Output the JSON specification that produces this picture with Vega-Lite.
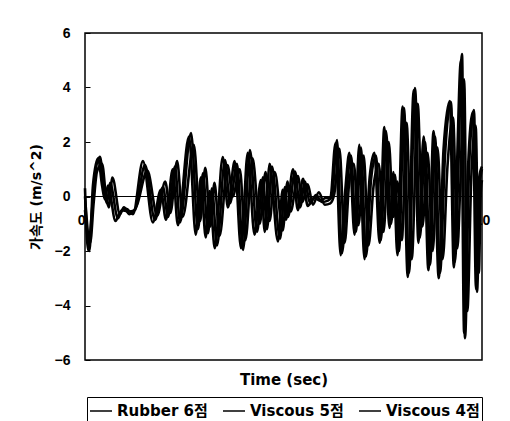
{
"$schema": "https://vega.github.io/schema/vega-lite/v6.json",
"width": 397, "height": 327,
"autosize": {"type": "none"},
"padding": {"left": 85, "top": 33, "right": 28, "bottom": 61},
"background": "white",
"config": {"view": {"stroke": "black", "strokeWidth": 1.5}, "font": "DejaVu Sans, Noto Sans CJK KR",
  "axis": {"labelColor": "black", "titleColor": "black", "tickColor": "black"}},
"data": {"values": [
{"s":"Rubber 6점","t":0,"v":0.3},{"s":"Rubber 6점","t":0.076,"v":-1.96},{"s":"Rubber 6점","t":0.176,"v":-0.5},{"s":"Rubber 6점","t":0.252,"v":0.8},{"s":"Rubber 6점","t":0.378,"v":1.46},{"s":"Rubber 6점","t":0.479,"v":0.2},{"s":"Rubber 6점","t":0.554,"v":-0.25},{"s":"Rubber 6점","t":0.63,"v":0.5},{"s":"Rubber 6점","t":0.831,"v":-0.8},{"s":"Rubber 6점","t":0.932,"v":-0.5},{"s":"Rubber 6점","t":1.083,"v":-0.55},{"s":"Rubber 6점","t":1.259,"v":-0.5},{"s":"Rubber 6점","t":1.511,"v":1.15},{"s":"Rubber 6점","t":1.763,"v":-0.86},{"s":"Rubber 6점","t":1.965,"v":0.35},{"s":"Rubber 6점","t":2.091,"v":-0.75},{"s":"Rubber 6점","t":2.267,"v":1.1},{"s":"Rubber 6점","t":2.393,"v":-0.95},{"s":"Rubber 6점","t":2.67,"v":2.33},{"s":"Rubber 6점","t":2.846,"v":-1.2},{"s":"Rubber 6점","t":2.972,"v":0.85},{"s":"Rubber 6점","t":3.098,"v":-1.35},{"s":"Rubber 6점","t":3.199,"v":0.3},{"s":"Rubber 6점","t":3.325,"v":-1.8},{"s":"Rubber 6점","t":3.526,"v":1.34},{"s":"Rubber 6점","t":3.652,"v":-0.25},{"s":"Rubber 6점","t":3.829,"v":1.2},{"s":"Rubber 6점","t":3.98,"v":-1.96},{"s":"Rubber 6점","t":4.156,"v":1.7},{"s":"Rubber 6점","t":4.332,"v":-1.3},{"s":"Rubber 6점","t":4.484,"v":0.7},{"s":"Rubber 6점","t":4.584,"v":-1.2},{"s":"Rubber 6점","t":4.71,"v":1.1},{"s":"Rubber 6점","t":4.912,"v":-1.55},{"s":"Rubber 6점","t":5.038,"v":0.35},{"s":"Rubber 6점","t":5.113,"v":-0.75},{"s":"Rubber 6점","t":5.29,"v":0.92},{"s":"Rubber 6점","t":5.416,"v":-0.4},{"s":"Rubber 6점","t":5.542,"v":0.55},{"s":"Rubber 6점","t":5.668,"v":-0.25},{"s":"Rubber 6점","t":5.819,"v":0.05},{"s":"Rubber 6점","t":5.97,"v":-0.2},{"s":"Rubber 6점","t":6.121,"v":-0.15},{"s":"Rubber 6점","t":6.222,"v":0},{"s":"Rubber 6점","t":6.348,"v":2.07},{"s":"Rubber 6점","t":6.474,"v":-2.08},{"s":"Rubber 6점","t":6.599,"v":0.4},{"s":"Rubber 6점","t":6.7,"v":1.5},{"s":"Rubber 6점","t":6.826,"v":-1.3},{"s":"Rubber 6점","t":6.952,"v":1.8},{"s":"Rubber 6점","t":7.078,"v":-2.2},{"s":"Rubber 6점","t":7.204,"v":0.6},{"s":"Rubber 6점","t":7.33,"v":1.5},{"s":"Rubber 6점","t":7.456,"v":-1.6},{"s":"Rubber 6점","t":7.582,"v":2.4},{"s":"Rubber 6점","t":7.708,"v":-1.0},{"s":"Rubber 6점","t":7.809,"v":0.8},{"s":"Rubber 6점","t":7.909,"v":-2.0},{"s":"Rubber 6점","t":8.035,"v":3.25},{"s":"Rubber 6점","t":8.161,"v":-2.8},{"s":"Rubber 6점","t":8.312,"v":3.98},{"s":"Rubber 6점","t":8.438,"v":-1.5},{"s":"Rubber 6점","t":8.564,"v":2.0},{"s":"Rubber 6점","t":8.69,"v":-2.5},{"s":"Rubber 6점","t":8.816,"v":2.2},{"s":"Rubber 6점","t":8.942,"v":-2.8},{"s":"Rubber 6점","t":9.068,"v":1.5},{"s":"Rubber 6점","t":9.219,"v":3.47},{"s":"Rubber 6점","t":9.32,"v":-2.4},{"s":"Rubber 6점","t":9.395,"v":0.5},{"s":"Rubber 6점","t":9.496,"v":5.23},{"s":"Rubber 6점","t":9.572,"v":-5.2},{"s":"Rubber 6점","t":9.673,"v":1.0},{"s":"Rubber 6점","t":9.798,"v":3.17},{"s":"Rubber 6점","t":9.874,"v":-3.5},{"s":"Rubber 6점","t":9.95,"v":0.5},{"s":"Rubber 6점","t":10,"v":1.0},
{"s":"Viscous 5점","t":0,"v":0.0},{"s":"Viscous 5점","t":0.13,"v":-1.7},{"s":"Viscous 5점","t":0.22,"v":-0.2},{"s":"Viscous 5점","t":0.3,"v":0.9},{"s":"Viscous 5점","t":0.43,"v":1.2},{"s":"Viscous 5점","t":0.53,"v":0.0},{"s":"Viscous 5점","t":0.6,"v":-0.4},{"s":"Viscous 5점","t":0.69,"v":0.7},{"s":"Viscous 5점","t":0.88,"v":-0.65},{"s":"Viscous 5점","t":0.98,"v":-0.4},{"s":"Viscous 5점","t":1.12,"v":-0.65},{"s":"Viscous 5점","t":1.3,"v":-0.35},{"s":"Viscous 5점","t":1.57,"v":0.95},{"s":"Viscous 5점","t":1.82,"v":-0.7},{"s":"Viscous 5점","t":2.02,"v":0.55},{"s":"Viscous 5점","t":2.15,"v":-0.6},{"s":"Viscous 5점","t":2.32,"v":1.3},{"s":"Viscous 5점","t":2.46,"v":-0.75},{"s":"Viscous 5점","t":2.74,"v":1.9},{"s":"Viscous 5점","t":2.9,"v":-0.9},{"s":"Viscous 5점","t":3.03,"v":1.05},{"s":"Viscous 5점","t":3.16,"v":-1.1},{"s":"Viscous 5점","t":3.26,"v":0.5},{"s":"Viscous 5점","t":3.39,"v":-1.45},{"s":"Viscous 5점","t":3.59,"v":1.15},{"s":"Viscous 5점","t":3.72,"v":0.0},{"s":"Viscous 5점","t":3.9,"v":1.0},{"s":"Viscous 5점","t":4.04,"v":-1.6},{"s":"Viscous 5점","t":4.22,"v":1.4},{"s":"Viscous 5점","t":4.4,"v":-1.0},{"s":"Viscous 5점","t":4.55,"v":0.9},{"s":"Viscous 5점","t":4.65,"v":-0.9},{"s":"Viscous 5점","t":4.78,"v":0.9},{"s":"Viscous 5점","t":4.98,"v":-1.25},{"s":"Viscous 5점","t":5.1,"v":0.55},{"s":"Viscous 5점","t":5.18,"v":-0.55},{"s":"Viscous 5점","t":5.36,"v":0.75},{"s":"Viscous 5점","t":5.48,"v":-0.2},{"s":"Viscous 5점","t":5.61,"v":0.45},{"s":"Viscous 5점","t":5.74,"v":-0.3},{"s":"Viscous 5점","t":5.89,"v":0.15},{"s":"Viscous 5점","t":6.04,"v":-0.3},{"s":"Viscous 5점","t":6.18,"v":-0.25},{"s":"Viscous 5점","t":6.28,"v":0.1},{"s":"Viscous 5점","t":6.41,"v":1.75},{"s":"Viscous 5점","t":6.54,"v":-1.7},{"s":"Viscous 5점","t":6.66,"v":0.6},{"s":"Viscous 5점","t":6.77,"v":1.2},{"s":"Viscous 5점","t":6.89,"v":-1.05},{"s":"Viscous 5점","t":7.02,"v":1.5},{"s":"Viscous 5점","t":7.14,"v":-1.8},{"s":"Viscous 5점","t":7.27,"v":0.4},{"s":"Viscous 5점","t":7.4,"v":1.2},{"s":"Viscous 5점","t":7.52,"v":-1.3},{"s":"Viscous 5점","t":7.65,"v":2.0},{"s":"Viscous 5점","t":7.77,"v":-0.75},{"s":"Viscous 5점","t":7.87,"v":0.55},{"s":"Viscous 5점","t":7.98,"v":-1.6},{"s":"Viscous 5점","t":8.1,"v":2.7},{"s":"Viscous 5점","t":8.23,"v":-2.3},{"s":"Viscous 5점","t":8.38,"v":3.4},{"s":"Viscous 5점","t":8.5,"v":-1.1},{"s":"Viscous 5점","t":8.63,"v":1.6},{"s":"Viscous 5점","t":8.76,"v":-2.0},{"s":"Viscous 5점","t":8.88,"v":1.8},{"s":"Viscous 5점","t":9.01,"v":-2.3},{"s":"Viscous 5점","t":9.13,"v":1.1},{"s":"Viscous 5점","t":9.27,"v":2.9},{"s":"Viscous 5점","t":9.38,"v":-1.9},{"s":"Viscous 5점","t":9.45,"v":0.3},{"s":"Viscous 5점","t":9.55,"v":4.3},{"s":"Viscous 5점","t":9.63,"v":-4.2},{"s":"Viscous 5점","t":9.73,"v":0.7},{"s":"Viscous 5점","t":9.84,"v":2.6},{"s":"Viscous 5점","t":9.92,"v":-2.8},{"s":"Viscous 5점","t":9.97,"v":0.2},{"s":"Viscous 5점","t":10,"v":0.6},
{"s":"Viscous 4점","t":0,"v":-0.5},{"s":"Viscous 4점","t":0.04,"v":-1.1},{"s":"Viscous 4점","t":0.11,"v":-2.0},{"s":"Viscous 4점","t":0.2,"v":0.4},{"s":"Viscous 4점","t":0.33,"v":1.4},{"s":"Viscous 4점","t":0.43,"v":0.4},{"s":"Viscous 4점","t":0.5,"v":-0.1},{"s":"Viscous 4점","t":0.58,"v":0.4},{"s":"Viscous 4점","t":0.77,"v":-0.9},{"s":"Viscous 4점","t":0.87,"v":-0.6},{"s":"Viscous 4점","t":1.04,"v":-0.45},{"s":"Viscous 4점","t":1.21,"v":-0.65},{"s":"Viscous 4점","t":1.46,"v":1.3},{"s":"Viscous 4점","t":1.71,"v":-0.95},{"s":"Viscous 4점","t":1.91,"v":0.25},{"s":"Viscous 4점","t":2.04,"v":-0.85},{"s":"Viscous 4점","t":2.21,"v":1.0},{"s":"Viscous 4점","t":2.34,"v":-1.05},{"s":"Viscous 4점","t":2.62,"v":2.2},{"s":"Viscous 4점","t":2.79,"v":-1.4},{"s":"Viscous 4점","t":2.92,"v":0.7},{"s":"Viscous 4점","t":3.04,"v":-1.5},{"s":"Viscous 4점","t":3.14,"v":0.2},{"s":"Viscous 4점","t":3.27,"v":-1.9},{"s":"Viscous 4점","t":3.47,"v":1.45},{"s":"Viscous 4점","t":3.6,"v":-0.4},{"s":"Viscous 4점","t":3.77,"v":1.3},{"s":"Viscous 4점","t":3.93,"v":-1.9},{"s":"Viscous 4점","t":4.1,"v":1.6},{"s":"Viscous 4점","t":4.27,"v":-1.4},{"s":"Viscous 4점","t":4.43,"v":0.6},{"s":"Viscous 4점","t":4.53,"v":-1.3},{"s":"Viscous 4점","t":4.65,"v":1.2},{"s":"Viscous 4점","t":4.86,"v":-1.65},{"s":"Viscous 4점","t":4.98,"v":0.25},{"s":"Viscous 4점","t":5.06,"v":-0.85},{"s":"Viscous 4점","t":5.24,"v":1.0},{"s":"Viscous 4점","t":5.36,"v":-0.5},{"s":"Viscous 4점","t":5.49,"v":0.65},{"s":"Viscous 4점","t":5.61,"v":-0.35},{"s":"Viscous 4점","t":5.77,"v":-0.05},{"s":"Viscous 4점","t":5.92,"v":-0.15},{"s":"Viscous 4점","t":6.07,"v":-0.05},{"s":"Viscous 4점","t":6.18,"v":-0.05},{"s":"Viscous 4점","t":6.31,"v":1.95},{"s":"Viscous 4점","t":6.44,"v":-2.15},{"s":"Viscous 4점","t":6.56,"v":0.3},{"s":"Viscous 4점","t":6.66,"v":1.6},{"s":"Viscous 4점","t":6.79,"v":-1.4},{"s":"Viscous 4점","t":6.91,"v":1.9},{"s":"Viscous 4점","t":7.04,"v":-2.3},{"s":"Viscous 4점","t":7.17,"v":0.7},{"s":"Viscous 4점","t":7.29,"v":1.6},{"s":"Viscous 4점","t":7.42,"v":-1.7},{"s":"Viscous 4점","t":7.54,"v":2.55},{"s":"Viscous 4점","t":7.67,"v":-1.15},{"s":"Viscous 4점","t":7.77,"v":0.9},{"s":"Viscous 4점","t":7.87,"v":-2.15},{"s":"Viscous 4점","t":8.0,"v":3.3},{"s":"Viscous 4점","t":8.13,"v":-2.95},{"s":"Viscous 4점","t":8.28,"v":3.9},{"s":"Viscous 4점","t":8.4,"v":-1.7},{"s":"Viscous 4점","t":8.53,"v":2.2},{"s":"Viscous 4점","t":8.65,"v":-2.7},{"s":"Viscous 4점","t":8.78,"v":2.4},{"s":"Viscous 4점","t":8.91,"v":-3.0},{"s":"Viscous 4점","t":9.03,"v":1.7},{"s":"Viscous 4점","t":9.19,"v":3.5},{"s":"Viscous 4점","t":9.29,"v":-2.6},{"s":"Viscous 4점","t":9.36,"v":0.6},{"s":"Viscous 4점","t":9.47,"v":5.0},{"s":"Viscous 4점","t":9.55,"v":-5.0},{"s":"Viscous 4점","t":9.65,"v":1.1},{"s":"Viscous 4점","t":9.77,"v":3.1},{"s":"Viscous 4점","t":9.85,"v":-3.4},{"s":"Viscous 4점","t":9.93,"v":0.7},{"s":"Viscous 4점","t":10,"v":1.1}
]},
"layer": [
{"mark": {"type": "line", "interpolate": "monotone", "strokeWidth": 2.6},
 "encoding": {
  "x": {"field": "t", "type": "quantitative", "scale": {"domain": [0, 10], "nice": false},
    "axis": {"values": [0, 10], "format": "d", "ticks": false, "domain": false, "grid": false, "labelPadding": -147, "labelAlign": {"condition": {"test": "datum.value == 0", "value": "right"}, "value": "center"}, "labelFont": "Liberation Sans", "labelFontSize": 14, "labelFontWeight": "bold", "labelFlush": false, "labelOverlap": false, "title": "Time (sec)", "titleFontSize": 15, "titleFontWeight": "bold", "titleY": 12, "titleBaseline": "top"}},
  "y": {"field": "v", "type": "quantitative", "scale": {"domain": [-6, 6], "nice": false},
    "axis": {"values": [-6, -4, -2, 0, 2, 4, 6], "tickSize": -5, "domain": false, "grid": false, "labelPadding": 20, "labelFont": "Liberation Sans", "labelFontSize": 14, "labelFontWeight": "bold", "labelFlush": false, "labelOverlap": false, "title": "가속도 (m/s^2)", "titleFontSize": 14, "titleFontWeight": "bold", "titlePadding": 11}},
  "color": {"field": "s", "type": "nominal", "sort": ["Rubber 6점", "Viscous 5점", "Viscous 4점"],
    "scale": {"domain": ["Rubber 6점", "Viscous 5점", "Viscous 4점"], "range": ["black", "black", "black"]},
    "legend": {"orient": "none", "legendX": 2, "legendY": 364, "direction": "horizontal", "title": null, "symbolType": "stroke", "symbolStrokeWidth": 1.5, "symbolSize": 484, "labelFontSize": 15, "labelFontWeight": "bold", "labelColor": "black", "strokeColor": "black", "padding": 2, "columnPadding": 12, "labelOffset": 4}}
 }},
{"mark": {"type": "rule", "color": "black", "strokeWidth": 1.2},
 "encoding": {"y": {"datum": 0, "type": "quantitative"}}}
]
}
